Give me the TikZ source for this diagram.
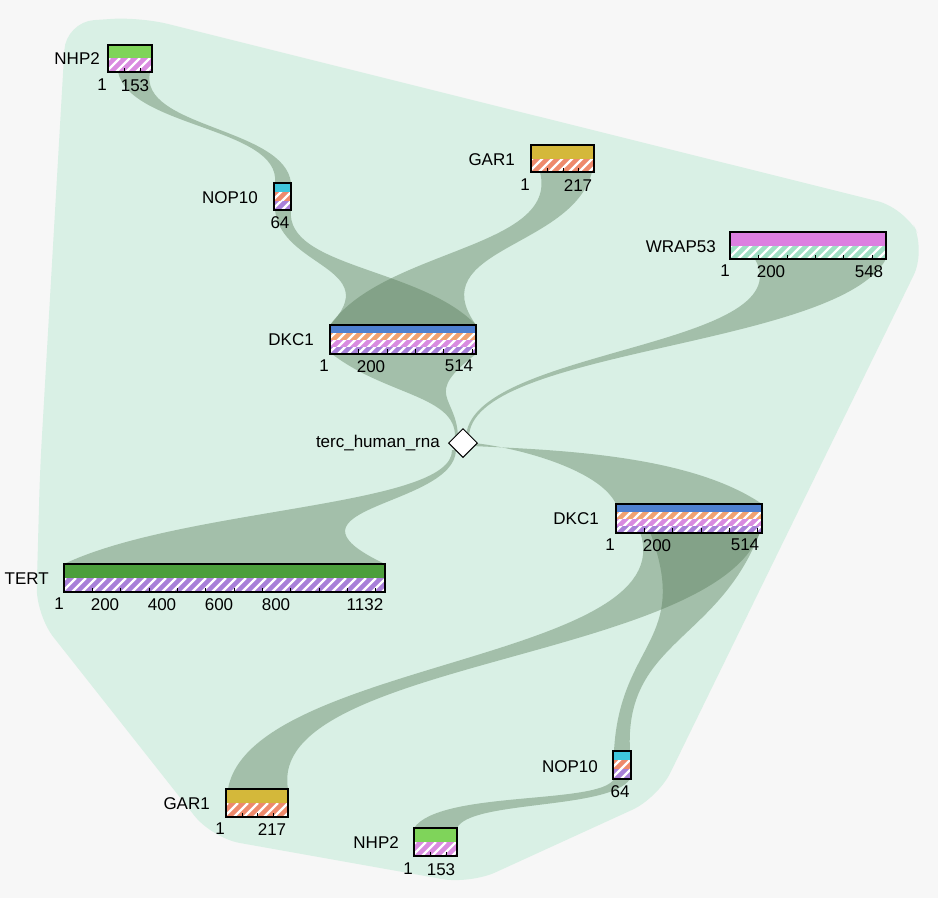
\documentclass[tikz,border=0pt]{standalone}
\usepackage{fontspec}
\setmainfont{Liberation Sans}
\usetikzlibrary{shapes.geometric}
\usepackage{xcolor}
\definecolor{hull}{HTML}{D9F0E5}
\definecolor{lgreen}{HTML}{7FD45A}
\definecolor{dgreen}{HTML}{4C9E3C}
\definecolor{pinkr}{HTML}{D98BE0}
\definecolor{salmon}{HTML}{EE8A6C}
\definecolor{orng}{HTML}{F2A270}
\definecolor{purp}{HTML}{A880D8}
\definecolor{cyanr}{HTML}{3FC6DC}
\definecolor{gold}{HTML}{D4B83A}
\definecolor{bluer}{HTML}{4F80D0}
\definecolor{magr}{HTML}{DC7FE0}
\definecolor{mint}{HTML}{9FE0C4}
\tikzset{
  link/.style={fill=black!55!green!30!gray,fill opacity=0.42},
  lbl/.style={font=\fontsize{17}{19}\selectfont,inner sep=1pt},
  ax/.style={font=\fontsize{17}{19}\selectfont,inner sep=1pt,anchor=north},
}
% solid row
\newcommand\srow[5]{\fill[#5] (#1,#3) rectangle (#2,#4);}
% hatched row
\newcommand\hrow[5]{%
  \begin{scope}
  \clip (#1,#3) rectangle (#2,#4);
  \fill[#5] (#1,#3) rectangle (#2,#4);
  \foreach \s in {0,10,...,340}
    \draw[white,line width=2.4] ({#1+\s-14},{#4+2}) -- ++(16,-16);
  \end{scope}}
% ribbon between two ranges, pinched in the middle
\newcommand\ribbon[6]{%
  \pgfmathsetmacro\ym{(#3+#6)/2}
  \pgfmathsetmacro\ma{(#1+#2)/2}
  \pgfmathsetmacro\mb{(#4+#5)/2}
  \fill[link] (#1,#3) .. controls ({0.25*#1+0.75*\ma},\ym) and ({0.25*#4+0.75*\mb},\ym) .. (#4,#6)
    -- (#5,#6) .. controls ({0.25*#5+0.75*\mb},\ym) and ({0.25*#2+0.75*\ma},\ym) .. (#2,#3) -- cycle;}
\newcommand\ticks[3]{\foreach \t in {#1} \draw[line width=0.8] (\t,#2) -- (\t,#3);}
\begin{document}
\begin{tikzpicture}[x=1pt,y=-1pt]
\useasboundingbox (0,0) rectangle (938,898);
\fill[black!3] (0,0) rectangle (938,898);
% hull
\fill[hull,rounded corners=28] (66,22) -- (140,17) -- (905,208) -- (926,250)
  -- (658,798) -- (470,884) -- (212,838) -- (36,615) -- (40,470) -- cycle;
% ribbons
\ribbon{118}{150}{72}{275}{291}{183}
\ribbon{275}{291}{210}{330}{476}{325}
\ribbon{540}{592}{172}{330}{476}{325}
\ribbon{332}{476}{354}{455}{458}{437}
\ribbon{755}{886}{259}{466}{469}{438}
\ribbon{452}{456}{450}{64}{385}{564}
\fill[link] (472,446) .. controls (560,450) and (690,455) .. (762,504)
  -- (616,504) .. controls (600,470) and (520,448) .. (474,443) -- cycle;
\ribbon{640}{760}{532}{228}{288}{789}
\ribbon{650}{760}{532}{614}{630}{751}
\fill[link] (614,779) .. controls (600,805) and (440,790) .. (414,828)
  -- (457,828) .. controls (470,800) and (610,810) .. (630,779) -- cycle;
% NHP2 top
\srow{108}{152}{45}{58}{lgreen}\hrow{108}{152}{58}{72}{pinkr}
\draw[line width=1.1] (108,45) rectangle (152,72);
\ticks{124,140}{72}{68}
\node[lbl,anchor=east] (nhpa) at (101,59) {NHP2};
\node[ax] at (102,78) {1}; \node[ax] at (135,78) {153};
% NOP10 top
\srow{274}{291}{183}{192}{cyanr}\hrow{274}{291}{192}{201}{salmon}\hrow{274}{291}{201}{210}{purp}
\draw[line width=1.1] (274,183) rectangle (291,210);
\node[lbl,anchor=east] (nopa) at (259,198) {NOP10};
\node[ax] at (280,215) {64};
% GAR1 top
\srow{531}{594}{145}{159}{gold}\hrow{531}{594}{159}{172}{salmon}
\draw[line width=1.1] (531,145) rectangle (594,172);
\ticks{547,563,578}{172}{168}
\node[lbl,anchor=east] (gara) at (516,160) {GAR1};
\node[ax] at (525,178) {1}; \node[ax] at (578,178) {217};
% WRAP53
\srow{730}{886}{232}{246}{magr}\hrow{730}{886}{246}{259}{mint}
\draw[line width=1.1] (730,232) rectangle (886,259);
\ticks{758,787,815,843,872}{259}{255}
\node[lbl,anchor=east] (wrap) at (717,247) {WRAP53};
\node[ax] at (725,264) {1}; \node[ax] at (771,264) {200}; \node[ax] at (869,264) {548};
% DKC1 top
\srow{330}{476}{325}{333}{bluer}\hrow{330}{476}{333}{340}{orng}\hrow{330}{476}{340}{347}{pinkr}\hrow{330}{476}{347}{354}{purp}
\draw[line width=1.1] (330,325) rectangle (476,354);
\ticks{358,387,415,443,472}{354}{349}
\node[lbl,anchor=east] (dkca) at (315,340) {DKC1};
\node[ax] at (324,359) {1}; \node[ax] at (371,359) {200}; \node[ax] at (459,359) {514};
% RNA
\node[diamond,draw,fill=white,line width=1,minimum size=29,inner sep=0] (rna) at (463,443) {};
\node[lbl,anchor=east] at (441,443) {terc\_human\_rna};
% DKC1 bottom
\srow{616}{762}{504}{512}{bluer}\hrow{616}{762}{512}{519}{orng}\hrow{616}{762}{519}{526}{pinkr}\hrow{616}{762}{526}{533}{purp}
\draw[line width=1.1] (616,504) rectangle (762,533);
\ticks{644,672,701,729,757}{533}{528}
\node[lbl,anchor=east] (dkcb) at (600,519) {DKC1};
\node[ax] at (610,538) {1}; \node[ax] at (657,538) {200}; \node[ax] at (745,538) {514};
% TERT
\srow{64}{385}{564}{578}{dgreen}\hrow{64}{385}{578}{592}{purp}
\draw[line width=1.1] (64,564) rectangle (385,592);
\ticks{92,120,149,177,205,234,262,290,319,347,375}{592}{588}
\node[lbl,anchor=east] (tert) at (50,579) {TERT};
\node[ax] at (59,597) {1}; \node[ax] at (105,597) {200}; \node[ax] at (162,597) {400};
\node[ax] at (219,597) {600}; \node[ax] at (276,597) {800}; \node[ax] at (365,597) {1132};
% NOP10 bottom
\srow{613}{631}{751}{760}{cyanr}\hrow{613}{631}{760}{769}{salmon}\hrow{613}{631}{769}{779}{purp}
\draw[line width=1.1] (613,751) rectangle (631,779);
\node[lbl,anchor=east] (nopb) at (599,767) {NOP10};
\node[ax] at (620,784) {64};
% GAR1 bottom
\srow{226}{288}{789}{803}{gold}\hrow{226}{288}{803}{817}{salmon}
\draw[line width=1.1] (226,789) rectangle (288,817);
\ticks{242,257,273}{817}{813}
\node[lbl,anchor=east] (garb) at (211,804) {GAR1};
\node[ax] at (220,822) {1}; \node[ax] at (272,822) {217};
% NHP2 bottom
\srow{414}{457}{828}{842}{lgreen}\hrow{414}{457}{842}{856}{pinkr}
\draw[line width=1.1] (414,828) rectangle (457,856);
\ticks{430,446}{856}{852}
\node[lbl,anchor=east] (nhpb) at (400,843) {NHP2};
\node[ax] at (408,862) {1}; \node[ax] at (441,862) {153};
\end{tikzpicture}
\end{document}
